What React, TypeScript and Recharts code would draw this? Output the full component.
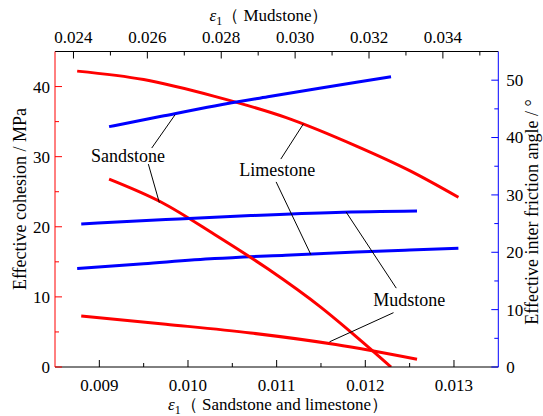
import React from 'react';
import {
  ComposedChart,
  Line,
  XAxis,
  YAxis,
  ReferenceLine,
  ReferenceDot,
  Customized,
} from 'recharts';

// strain values (sandstone & limestone on bottom axis, mudstone on top axis)
const limestoneStrain = [0.00875, 0.0095, 0.0103, 0.0111, 0.0119, 0.0125, 0.01305];
const limestoneCohesion = [42.2, 41.0, 38.6, 35.6, 31.5, 28.0, 24.2];
const limestoneFriction = [17.15, 18.0, 18.9, 19.5, 20.05, 20.4, 20.7];

const sandstoneStrain = [0.00911, 0.0097, 0.0103, 0.0109, 0.0115, 0.0119, 0.01229];
const sandstoneCohesion = [26.8, 23.5, 18.9, 14.0, 8.5, 4.3, 0];
const sandstoneFriction = [41.9, 43.7, 45.5, 47.1, 48.65, 49.65, 50.6];

const mudstoneStrain = [0.02421, 0.0265, 0.0288, 0.0311, 0.0333];
const mudstoneCohesion = [7.27, 6.1, 4.85, 3.2, 1.1];
const mudstoneFriction = [24.95, 25.7, 26.4, 26.95, 27.18];

const bottomTicks = [0.009, 0.0095, 0.01, 0.0105, 0.011, 0.0115, 0.012, 0.0125, 0.013];
const topTicks = [0.024, 0.025, 0.026, 0.027, 0.028, 0.029, 0.03, 0.031, 0.032, 0.033, 0.034, 0.035];
const leftTicks = [0, 5, 10, 15, 20, 25, 30, 35, 40];
const rightTicks = [0, 5, 10, 15, 20, 25, 30, 35, 40, 45, 50];

// leader lines, in bottom-x / left-y units
const leaders = [
  [[0.009591, 31.23], [0.009854, 35.97]],
  [[0.009553, 28.94], [0.009677, 23.44]],
  [[0.011047, 29.66], [0.011302, 34.68]],
  [[0.010994, 26.4], [0.011386, 16.03]],
  [[0.012349, 11.25], [0.011784, 22.09]],
  [[0.012318, 7.75], [0.011596, 3.59]],
];
const labelNames = ['Sandstone', 'Limestone', 'Mudstone'];
const labelX = [0.009324, 0.011006, 0.012495];
const labelY = [30.1, 28.2, 9.57];

const toPoints = (xs: number[], ys: number[]) => xs.map((x, i) => ({ x, y: ys[i] }));

const FONT = '"Liberation Serif", "Times New Roman", serif';
const TICK_FONT = 17;
const txt = { fontFamily: FONT };

const near = (v: number, step: number) => Math.abs(v / step - Math.round(v / step)) < 1e-6;

const BottomTick = (props: any) => {
  const { x, y, payload } = props;
  const major = near(payload.value, 0.001);
  return (
    <g>
      <line x1={x} y1={y} x2={x} y2={y - (major ? 7 : 4)} stroke="#000" />
      {major && (
        <text x={x} y={y + 24} textAnchor="middle" fontSize={TICK_FONT} fill="#000" style={txt}>
          {payload.value.toFixed(3)}
        </text>
      )}
    </g>
  );
};

const TopTick = (props: any) => {
  const { x, y, payload } = props;
  const major = near(payload.value, 0.002);
  return (
    <g>
      <line x1={x} y1={y} x2={x} y2={y + (major ? 7 : 4)} stroke="#000" />
      {major && (
        <text x={x} y={y - 9} textAnchor="middle" fontSize={TICK_FONT} fill="#000" style={txt}>
          {payload.value.toFixed(3)}
        </text>
      )}
    </g>
  );
};

const LeftTick = (props: any) => {
  const { x, y, payload } = props;
  const major = near(payload.value, 10);
  return (
    <g>
      <line x1={x} y1={y} x2={x + (major ? 7 : 4)} y2={y} stroke="#ff0000" />
      {major && (
        <text x={x - 5} y={y} dy="0.35em" textAnchor="end" fontSize={TICK_FONT} fill="#000" style={txt}>
          {payload.value}
        </text>
      )}
    </g>
  );
};

const RightTick = (props: any) => {
  const { x, y, payload } = props;
  const major = near(payload.value, 10);
  return (
    <g>
      <line x1={x} y1={y} x2={x - (major ? 7 : 4)} y2={y} stroke="#0000ff" />
      {major && (
        <text x={x + 8} y={y} dy="0.35em" textAnchor="start" fontSize={TICK_FONT} fill="#000" style={txt}>
          {payload.value}
        </text>
      )}
    </g>
  );
};

const Titles = () => (
  <g fill="#000" fontSize={17} style={txt}>
    <text x={269} y={21} textAnchor="middle">
      <tspan fontStyle="italic">ε</tspan>
      <tspan fontSize={12} dy={4}>1</tspan>
      <tspan dy={-4}>（ Mudstone）</tspan>
    </text>
    <text x={278} y={410} textAnchor="middle">
      <tspan fontStyle="italic">ε</tspan>
      <tspan fontSize={12} dy={4}>1</tspan>
      <tspan dy={-4}>（ Sandstone and limestone）</tspan>
    </text>
    <text x={20} y={199} fontSize={18} textAnchor="middle" dominantBaseline="central" transform="rotate(-90 20 199)">
      Effective cohesion / MPa
    </text>
    <text x={532} y={212} fontSize={18} textAnchor="middle" dominantBaseline="central" transform="rotate(-90 532 212)">
      Effective inter friction angle / °
    </text>
  </g>
);

export default function App() {
  return (
    <div style={{ position: 'absolute', left: 0, top: 0, fontFamily: FONT }}>
      <ComposedChart width={543} height={416} margin={{ top: 51.5, right: 43.7, bottom: 48, left: 54 }} style={txt}>
        <XAxis
          xAxisId="bottom"
          orientation="bottom"
          type="number"
          dataKey="x"
          domain={[0.0085, 0.0135]}
          allowDataOverflow
          ticks={bottomTicks}
          interval={0}
          height={1}
          tickSize={0}
          tickMargin={0}
          tick={<BottomTick />}
          axisLine={{ stroke: '#000' }}
          tickLine={false}
        />
        <XAxis
          xAxisId="top"
          orientation="top"
          type="number"
          dataKey="x"
          domain={[0.0235, 0.0355]}
          allowDataOverflow
          ticks={topTicks}
          interval={0}
          height={1}
          mirror
          tickSize={0}
          tickMargin={0}
          tick={<TopTick />}
          axisLine={{ stroke: '#000' }}
          tickLine={false}
        />
        <YAxis
          yAxisId="left"
          orientation="left"
          type="number"
          domain={[0, 45]}
          allowDataOverflow
          ticks={leftTicks}
          interval={0}
          width={1}
          tickSize={0}
          tickMargin={0}
          tick={<LeftTick />}
          axisLine={{ stroke: '#ff0000' }}
          tickLine={false}
        />
        <YAxis
          yAxisId="right"
          orientation="right"
          type="number"
          domain={[0, 55]}
          allowDataOverflow
          ticks={rightTicks}
          interval={0}
          width={1}
          tickSize={0}
          tickMargin={0}
          tick={<RightTick />}
          axisLine={{ stroke: '#0000ff' }}
          tickLine={false}
        />

        <Line xAxisId="bottom" yAxisId="left" data={toPoints(limestoneStrain, limestoneCohesion)} dataKey="y" type="monotone" stroke="#ff0000" strokeWidth={3} dot={false} isAnimationActive={false} />
        <Line xAxisId="bottom" yAxisId="right" data={toPoints(limestoneStrain, limestoneFriction)} dataKey="y" type="monotone" stroke="#0000ff" strokeWidth={3} dot={false} isAnimationActive={false} />
        <Line xAxisId="bottom" yAxisId="left" data={toPoints(sandstoneStrain, sandstoneCohesion)} dataKey="y" type="monotone" stroke="#ff0000" strokeWidth={3} dot={false} isAnimationActive={false} />
        <Line xAxisId="bottom" yAxisId="right" data={toPoints(sandstoneStrain, sandstoneFriction)} dataKey="y" type="monotone" stroke="#0000ff" strokeWidth={3} dot={false} isAnimationActive={false} />
        <Line xAxisId="top" yAxisId="left" data={toPoints(mudstoneStrain, mudstoneCohesion)} dataKey="y" type="monotone" stroke="#ff0000" strokeWidth={3} dot={false} isAnimationActive={false} />
        <Line xAxisId="top" yAxisId="right" data={toPoints(mudstoneStrain, mudstoneFriction)} dataKey="y" type="monotone" stroke="#0000ff" strokeWidth={3} dot={false} isAnimationActive={false} />

        {leaders.map((seg, i) => (
          <ReferenceLine
            key={`l${i}`}
            xAxisId="bottom"
            yAxisId="left"
            segment={[{ x: seg[0][0], y: seg[0][1] }, { x: seg[1][0], y: seg[1][1] }]}
            stroke="#000"
            strokeWidth={1}
            ifOverflow="visible"
          />
        ))}
        {labelNames.map((name, i) => (
          <ReferenceDot
            key={name}
            xAxisId="bottom"
            yAxisId="left"
            x={labelX[i]}
            y={labelY[i]}
            r={0}
            ifOverflow="visible"
            shape={(p: any) => (
              <text x={p.cx} y={p.cy} dy="0.35em" textAnchor="middle" fontSize={18} fill="#000" style={txt}>
                {name}
              </text>
            )}
          />
        ))}
        <Customized component={<Titles />} />
      </ComposedChart>
    </div>
  );
}
